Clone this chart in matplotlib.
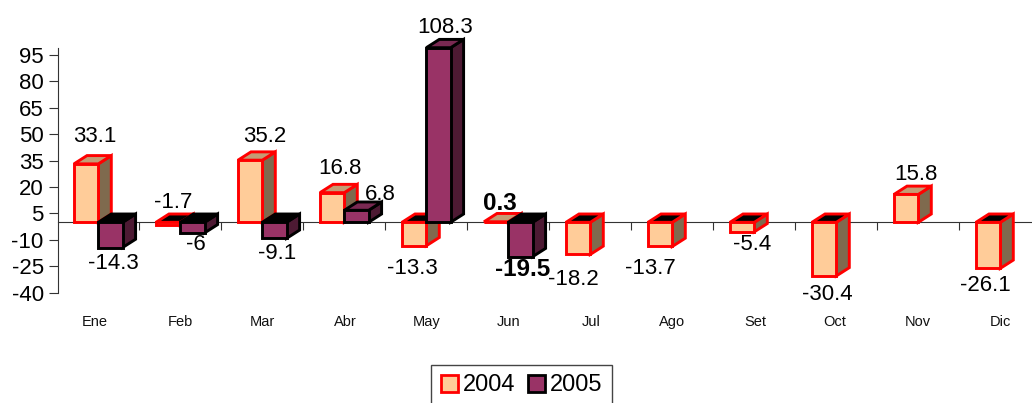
import matplotlib
matplotlib.use("Agg")
import matplotlib.pyplot as plt
from matplotlib.patches import Polygon, Patch

months = ["Ene", "Feb", "Mar", "Abr", "May", "Jun", "Jul", "Ago", "Set", "Oct", "Nov", "Dic"]
values_2004 = [33.1, -1.7, 35.2, 16.8, -13.3, 0.3, -18.2, -13.7, -5.4, -30.4, 15.8, -26.1]
values_2005 = [-14.3, -6, -9.1, 6.8, 108.3, -19.5]
y_ticks = [95, 80, 65, 50, 35, 20, 5, -10, -25, -40]

# layout (pixels)
W, H = 1032, 403
AX_L, AX_R, AX_T, AX_B = 58.3, 1032, 47.7, 293
CAT_W = 82.0
X0 = 98.3
ZERO = 222.3
PX_Y = 1.765
BAR_W = 24.3 / CAT_W
DX = 13 / CAT_W
DY = 8.3 / PX_Y

# label centres (pixels)
lab_2004 = [(95, 136.5), (173, 202.5), (265, 136.5), (340, 168.5), (412, 268.5), (500, 203),
            (573, 279.5), (650, 268.5), (752, 244.5), (827, 294.5), (916, 174.5), (985, 285.5)]
lab_2005 = [(113, 263.5), (196, 244.5), (277, 253.5), (380, 194.5), (445, 27.5), (523, 269)]
bold_labels = {(0, 5), (1, 5)}
cat_label_x = [95, 180, 262, 345, 427, 509, 591, 672, 755, 835, 918, 1000]
CAT_LABEL_BASE = 326

plt.rcParams["font.family"] = ["Liberation Sans", "DejaVu Sans"]
plt.rcParams["axes.unicode_minus"] = False
fig = plt.figure(figsize=(W / 100, H / 100), dpi=100)
ax = fig.add_axes([AX_L / W, 1 - AX_B / H, (AX_R - AX_L) / W, (AX_B - AX_T) / H])
ymax = (ZERO - AX_T) / PX_Y
ymin = (ZERO - AX_B) / PX_Y
ax.patch.set_visible(False)

for s in ("top", "right"):
    ax.spines[s].set_visible(False)
ax.spines["bottom"].set_position(("data", 0))
ax.spines["bottom"].set_linewidth(0.8)
ax.spines["left"].set_linewidth(0.8)
ax.spines["left"].set_color("#333333")
ax.spines["bottom"].set_color("#333333")
ax.set_yticks(y_ticks)
ax.tick_params(axis="y", length=6.5, width=0.8, color="#333333", labelsize=16, pad=4)
ax.set_xticks([i + 0.5 for i in range(0, 11)])
ax.set_xticklabels([])
ax.tick_params(axis="x", length=6, width=0.8, color="#333333", direction="out")
ax.set_ylim(ymin, ymax)
ax.set_xlim((AX_L - X0) / CAT_W, (AX_R - X0) / CAT_W)


def shade(poly_pts, face, edge, z):
    ax.add_patch(Polygon(poly_pts, closed=True, facecolor=face, edgecolor=edge,
                         linewidth=2.1, joinstyle="miter", clip_on=False, zorder=z))


def bar3d(left, value, front, side, top, edge, z):
    v = min(value, ymax)
    right = left + BAR_W
    hi = max(v, 0)
    lo = min(v, 0)
    shade([(right, lo), (right + DX, lo + DY), (right + DX, hi + DY), (right, hi)], side, edge, z)
    face_top = top if v > 0 else "#000000"
    shade([(left, hi), (left + DX, hi + DY), (right + DX, hi + DY), (right, hi)], face_top, edge, z)
    shade([(left, lo), (right, lo), (right, hi), (left, hi)], front, edge, z)


z = 3
for i, month in enumerate(months):
    bar3d(i - BAR_W, values_2004[i], "#FFCC99", "#7F6A4E", "#C49C74", "#FF0000", z)
    z += 1
    if i < len(values_2005):
        bar3d(i, values_2005[i], "#993366", "#4D1A33", "#7A2952", "#000000", z)
        z += 1


def add_labels(vals, centres, series):
    for j, (v, (cx, cy)) in enumerate(zip(vals, centres)):
        bold = (series, j) in bold_labels
        ax.text(cx, H - cy, f"{v:g}", transform=None, ha="center", va="center",
                fontsize=17.5 if bold else 16, fontweight="bold" if bold else "normal",
                color="black", clip_on=False, zorder=50)


add_labels(values_2004, lab_2004, 0)
add_labels(values_2005, lab_2005, 1)

for m, cx in zip(months, cat_label_x):
    ax.text(cx, H - CAT_LABEL_BASE, m, transform=None, ha="center", va="baseline",
            fontsize=10.5, color="#111111", clip_on=False)

handles = [Patch(facecolor="#FFCC99", edgecolor="#FF0000", linewidth=2, label="2004"),
           Patch(facecolor="#993366", edgecolor="#000000", linewidth=2, label="2005")]
leg = fig.legend(handles=handles, loc="upper left", ncol=2,
                 bbox_to_anchor=(431 / W, 1 - 364.5 / H), bbox_transform=fig.transFigure,
                 fontsize=17, frameon=True, fancybox=False, framealpha=1,
                 edgecolor="#444444", borderaxespad=0, borderpad=0.42,
                 handlelength=0.72, handleheight=0.72, handletextpad=0.2, columnspacing=0.55)
leg.get_frame().set_linewidth(1)

fig.savefig("out.png", dpi=100)
